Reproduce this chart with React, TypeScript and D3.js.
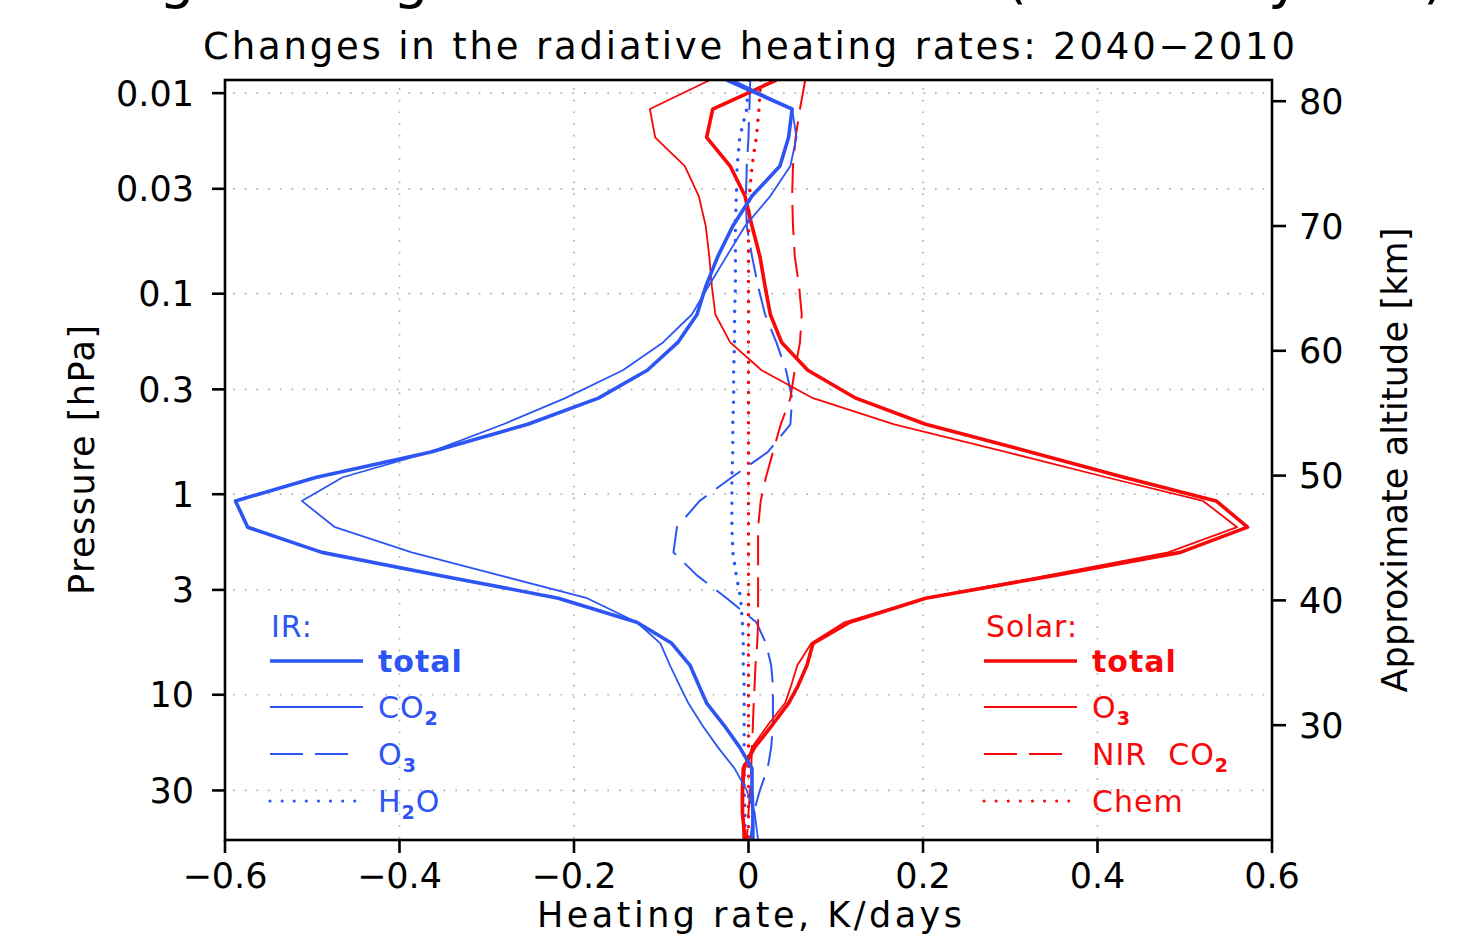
import React from 'react';
import * as d3 from 'd3';

// pressure levels (hPa) the profiles are given on
const pressureLevels = [0.0086, 0.012, 0.0166, 0.0231, 0.0326, 0.046, 0.065, 0.092, 0.127, 0.175, 0.241, 0.332, 0.448, 0.617, 0.823, 1.08, 1.46, 1.95, 2.54, 3.30, 4.35, 5.54, 7.13, 8.97, 11.0, 14.2, 18.3, 23.3, 30.0, 38.6, 53];

// heating rate changes, K/day
const irTotal = [-0.025, 0.050, 0.046, 0.036, 0.004, -0.018, -0.035, -0.049, -0.059, -0.081, -0.116, -0.172, -0.253, -0.365, -0.495, -0.588, -0.574, -0.489, -0.354, -0.218, -0.128, -0.088, -0.067, -0.057, -0.048, -0.028, -0.010, 0.004, 0.004, 0.005, 0.005];
const irCO2 = [-0.018, 0.050, 0.055, 0.048, 0.025, -0.004, -0.025, -0.046, -0.065, -0.098, -0.144, -0.210, -0.281, -0.365, -0.465, -0.512, -0.474, -0.386, -0.285, -0.185, -0.128, -0.101, -0.090, -0.079, -0.069, -0.053, -0.035, -0.016, -0.002, 0.007, 0.011];
const irO3 = [0.002, 0.001, 0.000, -0.002, -0.003, -0.002, 0.004, 0.011, 0.019, 0.032, 0.043, 0.050, 0.048, 0.022, -0.019, -0.056, -0.082, -0.086, -0.059, -0.025, 0.009, 0.020, 0.026, 0.028, 0.028, 0.028, 0.026, 0.022, 0.013, 0.006, 0.002];
const irH2O = [0.000, -0.002, -0.010, -0.013, -0.014, -0.015, -0.015, -0.015, -0.016, -0.016, -0.017, -0.017, -0.018, -0.018, -0.019, -0.019, -0.019, -0.018, -0.014, -0.009, -0.007, -0.006, -0.006, -0.005, -0.005, -0.005, -0.005, -0.005, -0.005, -0.004, -0.004];
const solarTotal = [0.032, -0.041, -0.048, -0.021, -0.004, 0.004, 0.013, 0.019, 0.025, 0.038, 0.068, 0.123, 0.203, 0.324, 0.430, 0.536, 0.572, 0.495, 0.351, 0.203, 0.116, 0.074, 0.067, 0.057, 0.046, 0.027, 0.007, -0.006, -0.007, -0.007, -0.004];
const solarO3 = [-0.044, -0.113, -0.107, -0.073, -0.057, -0.049, -0.045, -0.042, -0.038, -0.021, 0.015, 0.074, 0.167, 0.296, 0.410, 0.521, 0.560, 0.481, 0.343, 0.203, 0.110, 0.072, 0.056, 0.049, 0.042, 0.022, 0.004, -0.004, -0.006, -0.006, -0.006];
const solarNirCO2 = [0.065, 0.059, 0.054, 0.051, 0.050, 0.051, 0.053, 0.058, 0.061, 0.059, 0.053, 0.048, 0.037, 0.028, 0.020, 0.014, 0.011, 0.011, 0.011, 0.011, 0.011, 0.010, 0.008, 0.007, 0.006, 0.005, 0.004, 0.003, 0.002, 0.000, -0.002];
const solarChem = [0.014, 0.012, 0.009, 0.004, 0.001, 0.000, 0.000, 0.000, 0.000, 0.000, 0.000, 0.000, 0.000, 0.000, 0.000, 0.000, 0.000, 0.000, 0.000, 0.000, 0.000, 0.000, 0.000, 0.000, 0.000, 0.000, 0.000, 0.000, 0.000, 0.000, 0.000];

const pressureTicks = [0.01, 0.03, 0.1, 0.3, 1, 3, 10, 30];
const pressureTickLabels = ['0.01', '0.03', '0.1', '0.3', '1', '3', '10', '30'];
const rateTicks = [-0.6, -0.4, -0.2, 0, 0.2, 0.4, 0.6];
const rateGrid = [-0.4, -0.2, 0, 0.2, 0.4];
const altitudeTicks = [30, 40, 50, 60, 70, 80];

const BLUE = '#2d55f3';
const RED = '#f80808';
const FONT = '"DejaVu Sans", sans-serif';

const W = 1476, H = 945;
const plot = { left: 225, right: 1272, top: 80, bottom: 840 };

const x = d3.scaleLinear().domain([-0.6, 0.6]).range([plot.left, plot.right]);
const y = d3.scaleLog().domain([0.0086, 53]).range([plot.top, plot.bottom]);
const yAlt = d3.scaleLinear().domain([20.8, 81.7]).range([plot.bottom, plot.top]);

const line = d3.line<number>()
    .x(d => x(d))
    .y((d, i) => y(pressureLevels[i]));

const DASH = '30 12';
const DOT = '0.1 10';
const LEG_DASH = '33 12';
const LEG_DOT = '0.1 12';

const series = [
    { name: 'irO3', values: irO3, color: BLUE, width: 2, dash: DASH },
    { name: 'irH2O', values: irH2O, color: BLUE, width: 3.4, dash: DOT },
    { name: 'nirCO2', values: solarNirCO2, color: RED, width: 2, dash: DASH },
    { name: 'chem', values: solarChem, color: RED, width: 3.4, dash: DOT },
    { name: 'solarO3', values: solarO3, color: RED, width: 1.8, dash: null },
    { name: 'solarTotal', values: solarTotal, color: RED, width: 3.6, dash: null },
    { name: 'irCO2', values: irCO2, color: BLUE, width: 1.8, dash: null },
    { name: 'irTotal', values: irTotal, color: BLUE, width: 3.6, dash: null },
];

const fmtRate = (v: number) => v === 0 ? '0' : (v < 0 ? '\u2212' : '') + Math.abs(v).toFixed(1);

const Sub = ({ t }: { t: string }) => (
    <tspan fontSize={19} fontWeight="bold" dy={7}>{t}</tspan>
);

const LegendEntry = ({ x0, y0, color, width, dash, len, children, bold }: any) => (
    <g>
        <line x1={x0} x2={x0 + (len || 93)} y1={y0} y2={y0} stroke={color} strokeWidth={width}
            strokeDasharray={dash || undefined} strokeLinecap={dash === LEG_DOT ? 'round' : 'butt'} />
        <text x={x0 + 108} y={y0 + 11} fill={color} fontSize={30} fontWeight={bold ? 'bold' : 'normal'}
            fontFamily={FONT} letterSpacing={1}>{children}</text>
    </g>
);

export default function App() {
    return (
        <svg width={W} height={H} style={{ position: 'absolute', left: 0, top: 0, background: '#fff' }}
            fontFamily={FONT}>
            <defs>
                <clipPath id="plotClip">
                    <rect x={plot.left} y={plot.top} width={plot.right - plot.left} height={plot.bottom - plot.top} />
                </clipPath>
            </defs>

            {/* big title, mostly cut off at the top of the page */}
            <text y={-3} fontSize={56} fill="#000">
                <tspan x={-25}>Heating</tspan>
                <tspan x={257}>changes</tspan>
            </text>
            <text x={1005} y={-3} fontSize={56} fill="#000" textLength={440} lengthAdjust="spacing">(K day⁻¹)</text>

            <text x={203} y={59} fontSize={37} textLength={1092} lengthAdjust="spacing" fill="#000">
                Changes in the radiative heating rates: 2040−2010
            </text>

            {/* grid */}
            <g stroke="#b4b4b4" strokeWidth={1.7} strokeDasharray="1.7 10">
                {pressureTicks.map(p => (
                    <line key={'gy' + p} x1={plot.left + 8} x2={plot.right} y1={y(p)} y2={y(p)} />
                ))}
                {rateGrid.map(v => (
                    <line key={'gx' + v} x1={x(v)} x2={x(v)} y1={plot.top + 8} y2={plot.bottom} />
                ))}
            </g>

            {/* profiles */}
            <g clipPath="url(#plotClip)" fill="none" strokeLinejoin="round">
                {series.map(s => (
                    <path key={s.name} d={line(s.values) || ''} stroke={s.color} strokeWidth={s.width}
                        strokeDasharray={s.dash || undefined} strokeLinecap={s.dash === DOT ? 'round' : 'butt'} />
                ))}
            </g>

            {/* frame */}
            <rect x={plot.left} y={plot.top} width={plot.right - plot.left} height={plot.bottom - plot.top}
                fill="none" stroke="#000" strokeWidth={2.6} />

            {/* left axis */}
            {pressureTicks.map((p, i) => (
                <g key={'ly' + p}>
                    <line x1={plot.left - 13} x2={plot.left} y1={y(p)} y2={y(p)} stroke="#000" strokeWidth={2.6} />
                    <text x={194} y={y(p)} dy="0.36em" textAnchor="end" fontSize={35}>{pressureTickLabels[i]}</text>
                </g>
            ))}

            {/* bottom axis */}
            {rateTicks.map(v => (
                <g key={'bx' + v}>
                    <line x1={x(v)} x2={x(v)} y1={plot.bottom} y2={plot.bottom + 13} stroke="#000" strokeWidth={2.6} />
                    <text x={x(v)} y={888} textAnchor="middle" fontSize={35}>{fmtRate(v)}</text>
                </g>
            ))}

            {/* right axis: approximate altitude */}
            {altitudeTicks.map(a => (
                <g key={'ra' + a}>
                    <line x1={plot.right} x2={plot.right + 14} y1={yAlt(a)} y2={yAlt(a)} stroke="#000" strokeWidth={2.6} />
                    <text x={1299} y={yAlt(a)} dy="0.36em" textAnchor="start" fontSize={35}>{a}</text>
                </g>
            ))}

            {/* axis titles */}
            <text x={537} y={927} fontSize={35} textLength={425} lengthAdjust="spacing">Heating rate, K/days</text>
            <text transform="translate(94,460) rotate(-90)" textAnchor="middle" fontSize={35}
                textLength={270} lengthAdjust="spacing">Pressure [hPa]</text>
            <text transform="translate(1407,460) rotate(-90)" textAnchor="middle" fontSize={35}
                textLength={465} lengthAdjust="spacing">Approximate altitude [km]</text>

            {/* legend IR */}
            <text x={271} y={637} fontSize={30} fill={BLUE} letterSpacing={1}>IR:</text>
            <LegendEntry x0={270} y0={661} color={BLUE} width={3.6} bold>total</LegendEntry>
            <LegendEntry x0={270} y0={707} color={BLUE} width={1.8}>CO<Sub t="2" /></LegendEntry>
            <LegendEntry x0={270} y0={754} color={BLUE} width={2} dash={LEG_DASH} len={80}>O<Sub t="3" /></LegendEntry>
            <LegendEntry x0={270} y0={801} color={BLUE} width={3} dash={LEG_DOT} len={85}>H<Sub t="2" /><tspan dy={-7}>O</tspan></LegendEntry>

            {/* legend Solar */}
            <text x={986} y={637} fontSize={30} fill={RED} letterSpacing={1}>Solar:</text>
            <LegendEntry x0={984} y0={661} color={RED} width={3.6} bold>total</LegendEntry>
            <LegendEntry x0={984} y0={707} color={RED} width={1.8}>O<Sub t="3" /></LegendEntry>
            <LegendEntry x0={984} y0={754} color={RED} width={2} dash={LEG_DASH} len={80}>{'NIR\u00a0\u00a0CO'}<Sub t="2" /></LegendEntry>
            <LegendEntry x0={984} y0={801} color={RED} width={3} dash={LEG_DOT} len={85}>Chem</LegendEntry>
        </svg>
    );
}
